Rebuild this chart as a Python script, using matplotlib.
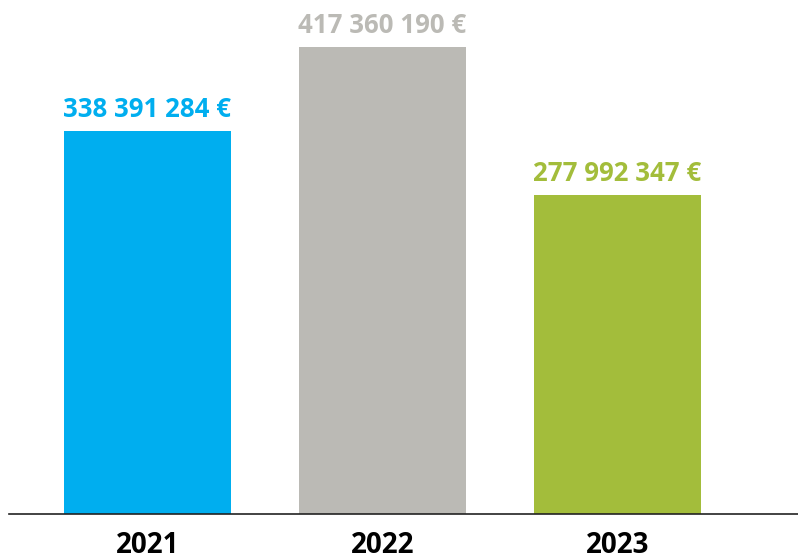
import matplotlib
matplotlib.use('Agg')
import matplotlib.pyplot as plt
import numpy as np

# --- Data ---
years = ["2021", "2022", "2023"]
amounts = [338391284, 417360190, 277992347]
value_labels = ["338 391 284 €", "417 360 190 €", "277 992 347 €"]
colors = ["#00AEEF", "#BBBAB5", "#A3BD3B"]

# --- Layout ---
Y0 = -21.6e6          # the bars start a bit below zero in the original
Y_TOP = 461.5e6
BAR_WIDTH = 0.71

plt.rcParams['font.family'] = ['Open Sans', 'DejaVu Sans']

fig = plt.figure(figsize=(7.98, 5.6), dpi=100)
ax = fig.add_axes([9 / 798, 46 / 560, 789 / 798, 514 / 560])

x = np.arange(len(years))
vals = np.array(amounts, dtype=float)
ax.bar(x, vals - Y0, bottom=Y0, width=BAR_WIDTH, color=colors, zorder=2)

for xi, v, lab, c in zip(x, vals, value_labels, colors):
    ax.annotate(lab, (xi, v), xytext=(0, 10), textcoords='offset points',
                ha='center', va='baseline', color=c, fontsize=18.6, fontweight='bold')

ax.set_xlim(-0.589, 2.768)
ax.set_ylim(Y0, Y_TOP)
ax.set_xticks(x)
ax.set_xticklabels(years, fontsize=20, fontweight='bold', color='black')
ax.tick_params(axis='x', length=0, pad=12)
ax.set_yticks([])
for side in ['top', 'right', 'left']:
    ax.spines[side].set_visible(False)
ax.spines['bottom'].set_color('#222222')
ax.spines['bottom'].set_linewidth(1.2)
ax.patch.set_alpha(0)

fig.savefig("out.png", dpi=100)
